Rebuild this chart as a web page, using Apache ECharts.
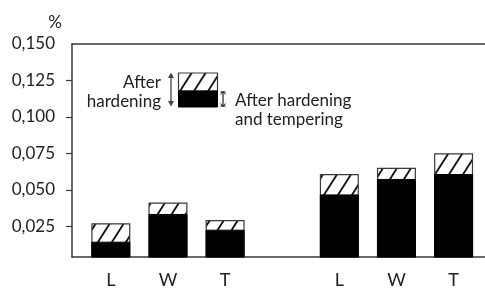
<!DOCTYPE html>
<html>
<head>
<meta charset="utf-8">
<script src="https://cdn.jsdelivr.net/npm/echarts@6/dist/echarts.min.js"></script>
<style>
  html, body { margin: 0; padding: 0; background: #fff; }
  #chart { width: 485px; height: 289px; }
</style>
</head>
<body>
<div id="chart"></div>
<script>
// categories and their slot on the x axis (gap between the two groups)
const categories = ['L', 'W', 'T', 'L', 'W', 'T']
const slots = [0, 1, 2, 4, 5, 6]
// values in %
const afterHardening = [0.0271, 0.0413, 0.0293, 0.0609, 0.0651, 0.0751]
const afterTempering = [0.0145, 0.0335, 0.0227, 0.0469, 0.0575, 0.0609]
const yTicks = [0.025, 0.050, 0.075, 0.100, 0.125, 0.150]

const font = 'Lato, "Open Sans", sans-serif'
const ink = '#222'
const lineColor = '#3a3a3a'

// hatch pattern, slashes like the original
function makeHatch() {
  const c = document.createElement('canvas')
  const w = 14, h = 22
  c.width = w
  c.height = h
  const ctx = c.getContext('2d')
  ctx.fillStyle = '#fff'
  ctx.fillRect(0, 0, w, h)
  ctx.strokeStyle = '#111'
  ctx.lineWidth = 1.8
  ctx.beginPath()
  ctx.moveTo(-w, 2 * h); ctx.lineTo(2 * w, -h)
  ctx.moveTo(-2 * w, 2 * h); ctx.lineTo(w, -h)
  ctx.moveTo(0, 2 * h); ctx.lineTo(3 * w, -h)
  ctx.stroke()
  return c
}
const hatch = { image: makeHatch(), repeat: 'repeat' }

const chart = echarts.init(document.getElementById('chart'))

const fmt = v => v.toFixed(3).replace('.', ',')

chart.setOption({
  animation: false,
  grid: { left: 72, right: 0, top: 44, bottom: 27 },
  xAxis: [{
    type: 'value',
    min: -0.68,
    max: 6.55,
    axisLine: { show: true, onZero: false, lineStyle: { color: lineColor, width: 1.5 } },
    axisTick: { show: false },
    splitLine: { show: false },
    axisLabel: {
      customValues: slots,
      formatter: v => categories[slots.indexOf(v)],
      color: ink,
      fontFamily: font,
      fontSize: 18,
      margin: 14
    }
  }, {
    type: 'value',
    position: 'top',
    min: -0.68,
    max: 6.55,
    axisLine: { show: true, onZero: false, lineStyle: { color: lineColor, width: 1.5 } },
    axisTick: { show: false },
    splitLine: { show: false },
    axisLabel: { show: false }
  }],
  yAxis: {
    type: 'value',
    min: 0.004,
    max: 0.150,
    name: '%',
    nameLocation: 'end',
    nameGap: 13,
    nameTextStyle: { color: ink, fontFamily: font, fontSize: 17, align: 'right', padding: [0, 10, 0, 0] },
    axisLine: { show: true, onZero: false, lineStyle: { color: lineColor, width: 1.5 } },
    axisTick: {
      show: true,
      length: 6,
      customValues: yTicks.slice(0, 5),
      lineStyle: { color: lineColor, width: 1.2 }
    },
    splitLine: { show: false },
    axisLabel: {
      customValues: yTicks,
      formatter: fmt,
      color: ink,
      fontFamily: font,
      fontSize: 17,
      margin: 17
    }
  },
  series: [{
    name: 'After hardening',
    type: 'bar',
    clip: true,
    barWidth: 39,
    barGap: '-100%',
    data: slots.map((s, i) => [s, afterHardening[i]]),
    itemStyle: { color: hatch, borderColor: lineColor, borderWidth: 1.2 }
  }, {
    name: 'After hardening and tempering',
    type: 'bar',
    clip: true,
    barWidth: 39,
    barGap: '-100%',
    data: slots.map((s, i) => [s, afterTempering[i]]),
    itemStyle: { color: '#000', borderColor: '#000', borderWidth: 1 }
  }],
  graphic: [
    // key swatch
    { type: 'rect', shape: { x: 178.5, y: 73, width: 39, height: 18 }, style: { fill: hatch, stroke: lineColor, lineWidth: 1.2 } },
    { type: 'rect', shape: { x: 178.5, y: 91, width: 39, height: 16 }, style: { fill: '#000', stroke: '#000', lineWidth: 1 } },
    // arrow for the whole bar
    { type: 'line', shape: { x1: 171, y1: 75, x2: 171, y2: 104 }, style: { stroke: '#444', lineWidth: 1.3 } },
    { type: 'polygon', shape: { points: [[168, 78], [171, 72.5], [174, 78]] }, style: { fill: '#444' } },
    { type: 'polygon', shape: { points: [[168, 101], [171, 106.5], [174, 101]] }, style: { fill: '#444' } },
    // arrow for the black part
    { type: 'line', shape: { x1: 223, y1: 92, x2: 223, y2: 106 }, style: { stroke: '#222', lineWidth: 1.2 } },
    { type: 'line', shape: { x1: 220.5, y1: 92, x2: 225.5, y2: 92 }, style: { stroke: '#222', lineWidth: 1.2 } },
    { type: 'line', shape: { x1: 220.5, y1: 106, x2: 225.5, y2: 106 }, style: { stroke: '#222', lineWidth: 1.2 } },
    { type: 'line', shape: { x1: 220.5, y1: 94.5, x2: 223, y2: 91.5 }, style: { stroke: '#222', lineWidth: 1 } },
    { type: 'line', shape: { x1: 225.5, y1: 94.5, x2: 223, y2: 91.5 }, style: { stroke: '#222', lineWidth: 1 } },
    { type: 'line', shape: { x1: 220.5, y1: 103.5, x2: 223, y2: 106.5 }, style: { stroke: '#222', lineWidth: 1 } },
    { type: 'line', shape: { x1: 225.5, y1: 103.5, x2: 223, y2: 106.5 }, style: { stroke: '#222', lineWidth: 1 } },
    // labels
    {
      type: 'text', x: 161, y: 92,
      style: { text: 'After\nhardening', fill: ink, font: '17px ' + font, align: 'right', verticalAlign: 'middle', lineHeight: 19 }
    },
    {
      type: 'text', x: 235, y: 91,
      style: { text: 'After hardening\nand tempering', fill: ink, font: '17px ' + font, align: 'left', verticalAlign: 'top', lineHeight: 19 }
    }
  ]
})
</script>
</body>
</html>
